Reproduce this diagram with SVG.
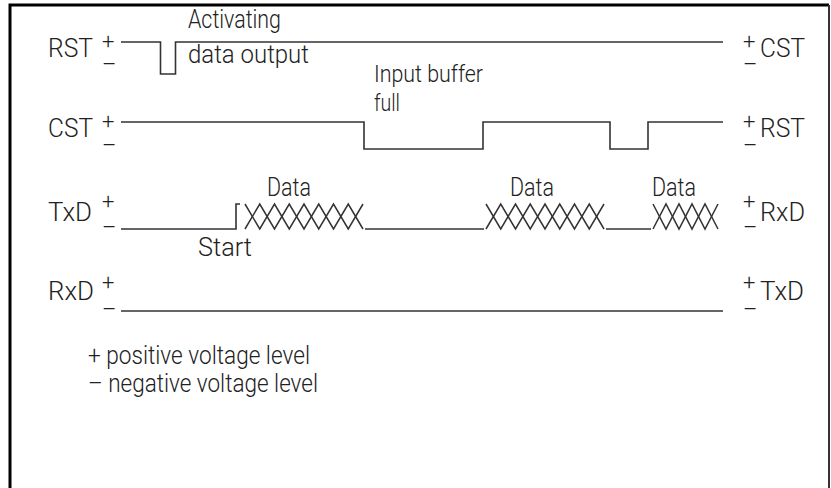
<svg xmlns="http://www.w3.org/2000/svg" width="831" height="488" viewBox="0 0 831 488">
<style>
  text { font-family: Roboto, "Liberation Sans", Arial, sans-serif; font-weight: 300; fill: #222; }
  .lbl { font-size: 25px; }
  .note { font-size: 23px; }
  .pm { font-size: 22px; }
  .sig { fill: none; stroke: #333; stroke-width: 1.6; }
  .bus { fill: none; stroke: #333; stroke-width: 1.5; stroke-linejoin: miter; }
</style>
<rect x="0" y="0" width="831" height="488" fill="#fff"/>
<g id="frame">
  <path d="M10,488 V5 H829" fill="none" stroke="#000" stroke-width="3"/>
  <path d="M829,5 V488" fill="none" stroke="#333" stroke-width="2"/>
</g>

<g id="row-rst">
  <text class="lbl" x="48" y="57" textLength="45" lengthAdjust="spacingAndGlyphs">RST</text>
  <text class="pm" x="102" y="49">+</text>
  <text class="pm" x="102" y="72">–</text>
  <text class="pm" x="743" y="49">+</text>
  <text class="pm" x="743" y="72">–</text>
  <text class="lbl" x="760" y="57" textLength="45" lengthAdjust="spacingAndGlyphs">CST</text>
  <text class="lbl" x="188" y="28" textLength="93" lengthAdjust="spacingAndGlyphs">Activating</text>
  <text class="lbl" x="188" y="63" textLength="121" lengthAdjust="spacingAndGlyphs">data output</text>
</g>
<g id="row-cst">
  <text class="lbl" x="48" y="137" textLength="45" lengthAdjust="spacingAndGlyphs">CST</text>
  <text class="pm" x="102" y="129">+</text>
  <text class="pm" x="102" y="153">–</text>
  <text class="pm" x="743" y="129">+</text>
  <text class="pm" x="743" y="153">–</text>
  <text class="lbl" x="760" y="137" textLength="45" lengthAdjust="spacingAndGlyphs">RST</text>
  <text class="note" x="374" y="82" textLength="109" lengthAdjust="spacingAndGlyphs">Input buffer</text>
  <text class="note" x="374" y="111" textLength="26" lengthAdjust="spacingAndGlyphs">full</text>
</g>
<g id="row-txd">
  <text class="lbl" x="48" y="221" textLength="44" lengthAdjust="spacingAndGlyphs">TxD</text>
  <text class="pm" x="102" y="209">+</text>
  <text class="pm" x="102" y="235">–</text>
  <text class="pm" x="743" y="209">+</text>
  <text class="pm" x="743" y="235">–</text>
  <text class="lbl" x="760" y="221" textLength="45" lengthAdjust="spacingAndGlyphs">RxD</text>
  <text class="lbl" x="267" y="196" textLength="44" lengthAdjust="spacingAndGlyphs">Data</text>
  <text class="lbl" x="510" y="196" textLength="44" lengthAdjust="spacingAndGlyphs">Data</text>
  <text class="lbl" x="652" y="196" textLength="44" lengthAdjust="spacingAndGlyphs">Data</text>
  <text class="lbl" x="198" y="256" textLength="54" lengthAdjust="spacingAndGlyphs">Start</text>
</g>
<g id="row-rxd">
  <text class="lbl" x="48" y="300" textLength="46" lengthAdjust="spacingAndGlyphs">RxD</text>
  <text class="pm" x="102" y="290">+</text>
  <text class="pm" x="102" y="317">–</text>
  <text class="pm" x="743" y="290">+</text>
  <text class="pm" x="743" y="317">–</text>
  <text class="lbl" x="760" y="300" textLength="44" lengthAdjust="spacingAndGlyphs">TxD</text>
</g>
<g id="legend">
  <text class="lbl" x="88" y="364" textLength="222" lengthAdjust="spacingAndGlyphs">+ positive voltage level</text>
  <text class="lbl" x="88" y="392" textLength="230" lengthAdjust="spacingAndGlyphs">– negative voltage level</text>
</g>

<g id="connectors">
  <path class="sig" d="M121,42 H160.5 V74 H175.5 V42 H723"/>
  <path class="sig" d="M121,122 H364 V149 H483 V122 H610 V149 H648 V122 H723"/>
  <path class="sig" d="M121,229 H236 V204 H240"/>
  <path class="sig" d="M365,229 H484"/>
  <path class="sig" d="M606,229 H651"/>
  <path class="bus" d="M245,204 L259.75,229 L274.5,204 L289.25,229 L304,204 L318.75,229 L333.5,204 L348.25,229 L363,204"/>
  <path class="bus" d="M245,229 L259.75,204 L274.5,229 L289.25,204 L304,229 L318.75,204 L333.5,229 L348.25,204 L363,229"/>
  <path class="bus" d="M486,204 L500.75,229 L515.5,204 L530.25,229 L545,204 L559.75,229 L574.5,204 L589.25,229 L604,204"/>
  <path class="bus" d="M486,229 L500.75,204 L515.5,229 L530.25,204 L545,229 L559.75,204 L574.5,229 L589.25,204 L604,229"/>
  <path class="bus" d="M653,204 L666,229 L679,204 L692,229 L705,204 L718,229"/>
  <path class="bus" d="M653,229 L666,204 L679,229 L692,204 L705,229 L718,204"/>
  <path class="sig" d="M121,311 H723"/>
</g>
</svg>
